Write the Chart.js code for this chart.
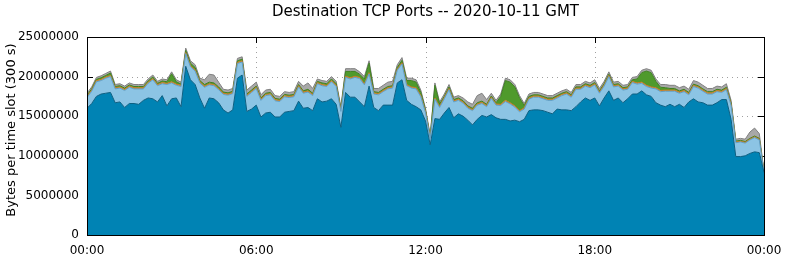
<!DOCTYPE html>
<html><head><meta charset="utf-8">
<script src="https://cdn.jsdelivr.net/npm/chart.js@4/dist/chart.umd.min.js"></script>
<style>html,body{margin:0;padding:0;background:#fff}</style>
</head><body>
<canvas id="c" width="786" height="260"></canvas>
<script>
// Values in millions of bytes per 300 s slot, one value every 10 minutes (00:00 .. 24:00)
const stepMinutes = 10;
const darkBlue = [
16.0,16.6,17.5,17.8,17.9,18.0,16.7,16.8,16.1,16.6,
16.6,16.5,17.0,17.3,17.2,16.8,17.6,16.3,17.2,17.3,
16.2,21.3,19.6,19.0,17.3,16.0,17.3,17.2,16.7,15.8,
15.4,15.8,19.8,20.2,15.6,15.9,16.4,14.9,15.4,15.5,
14.9,14.9,15.5,15.6,15.7,16.9,16.0,16.1,15.7,17.2,
16.8,16.9,17.2,16.5,13.6,18.0,17.4,17.4,16.8,16.2,
18.8,16.1,15.7,16.4,16.4,16.4,19.2,19.6,17.0,16.5,
16.2,15.8,14.4,11.4,14.7,14.6,15.4,16.1,14.8,15.3,
15.0,14.5,13.9,14.6,15.1,14.9,15.2,14.8,14.6,14.6,
14.4,14.5,14.3,14.6,15.7,15.8,15.8,15.7,15.5,15.3,
15.9,15.8,15.8,15.7,16.2,16.8,17.3,17.0,17.3,16.3,
17.3,18.2,17.0,17.3,16.7,17.2,17.8,17.8,18.2,17.7,
17.5,16.7,16.4,16.2,16.5,16.2,16.5,16.1,16.8,17.2,
16.8,16.7,16.4,16.4,16.7,17.1,17.1,14.6,9.9,9.9,
10.0,10.3,10.5,10.4,7.9];
const lightBlue = [
1.35,1.55,1.85,1.7,1.9,2.0,1.75,1.75,2.15,2.05,
1.85,1.95,1.45,1.85,2.4,2.05,1.5,2.7,2.0,1.6,
2.55,1.6,1.65,1.7,1.9,2.65,1.65,1.65,1.65,1.95,
2.25,2.05,1.85,1.65,1.9,2.1,2.1,2.1,2.2,2.2,
2.05,1.95,1.95,1.75,1.75,1.8,1.9,1.95,1.9,1.9,
2.05,1.85,2.15,2.25,2.0,1.9,2.3,2.5,2.95,2.75,
1.55,1.7,2.0,1.7,2.05,2.15,1.6,2.0,1.85,2.05,
2.25,1.65,1.05,0.8,2.45,1.5,1.8,2.25,2.0,1.7,
1.65,1.5,1.8,1.8,1.5,1.3,2.05,1.6,1.75,2.25,
2.15,1.65,1.25,1.3,1.45,1.6,1.6,1.5,1.5,1.7,
1.4,1.8,2.0,1.7,2.2,1.6,1.5,1.6,1.65,1.6,
1.5,1.8,1.7,1.5,1.6,1.2,1.45,1.25,0.95,1.05,
1.05,1.75,1.7,1.95,1.65,1.95,1.4,2.0,0.9,1.55,
1.75,1.45,1.4,1.4,1.4,0.9,1.25,1.75,1.75,1.85,
1.6,1.7,1.8,1.6,0.03];
const orange = [
.15,.15,.15,.15,.15,.15,.15,.15,.15,.15,
.15,.15,.15,.15,.15,.15,.15,.15,.15,.15,
.15,.15,.15,.15,.15,.15,.15,.15,.15,.15,
.15,.15,.15,.15,.15,.15,.15,.15,.15,.15,
.15,.15,.15,.15,.15,.15,.15,.15,.15,.15,
.15,.15,.15,.15,.15,.15,.15,.15,.15,.15,
.15,.15,.15,.15,.15,.15,.15,.15,.15,.15,
.15,.15,.15,.1,.15,.15,.15,.15,.15,.15,
.15,.15,.15,.15,.15,.15,.15,.15,.15,.15,
.15,.15,.15,.15,.15,.15,.15,.15,.15,.15,
.15,.15,.15,.15,.15,.15,.15,.15,.15,.15,
.15,.15,.15,.15,.15,.15,.15,.15,.15,.15,
.15,.15,.15,.15,.15,.15,.15,.15,.15,.15,
.15,.15,.15,.15,.15,.15,.15,.15,.1,.1,
.1,.1,.1,.1,.02];
const green = [
.15,.15,.15,.2,.2,.3,.15,.15,.15,.15,
.15,.15,.15,.15,.2,.15,.2,.2,1.0,.3,
.15,.25,.3,.3,.15,.2,.2,.2,.2,.15,
.15,.15,.2,.2,.15,.15,.15,.15,.15,.15,
.15,.15,.15,.15,.15,.15,.15,.2,.15,.15,
.2,.2,.2,.2,.15,.6,.8,.6,.4,.6,
1.2,.15,.15,.15,.15,.15,.2,.3,.5,.8,
.7,.4,.15,.1,1.6,.3,.15,.2,.15,.15,
.15,.15,.15,.15,.15,.15,.15,.15,1.0,2.5,
2.6,2.4,1.6,.3,.2,.15,.15,.15,.15,.15,
.15,.15,.15,.15,.15,.15,.15,.15,.15,.15,
.15,.15,.15,.15,.15,.15,.2,.5,1.2,1.8,
1.8,.8,.4,.3,.2,.2,.15,.15,.15,.15,
.15,.15,.15,.15,.15,.15,.15,.15,.1,.1,
.1,.1,.1,.1,.02];
const gray = [
.25,.25,.25,.25,.25,.25,.25,.25,.25,.25,
.25,.25,.25,.25,.25,.25,.25,.25,.25,.25,
.25,.3,.3,.35,.3,.6,1.0,1.0,.6,.35,
.35,.35,.3,.3,.5,.5,.5,.4,.4,.4,
.35,.35,.35,.35,.35,.4,.6,.8,.6,.3,
.3,.3,.3,.3,.3,.35,.35,.35,.3,.3,
.3,.4,.5,.5,.55,.55,.35,.35,.3,.3,
.3,.3,.25,.2,.3,.25,.3,.3,.3,.3,
.35,.5,.5,.9,1.0,.6,.35,.3,.3,.3,
.3,.3,.3,.25,.3,.3,.3,.3,.3,.3,
.3,.3,.3,.3,.3,.3,.3,.3,.35,.3,
.3,.3,.3,.3,.3,.3,.3,.3,.3,.3,
.3,.3,.35,.4,.4,.4,.4,.4,.4,.45,
.45,.45,.4,.4,.4,.4,.45,.35,.25,.25,
.3,.8,1.0,.6,.03];

const slots = darkBlue.map((_, i) => i * stepMinutes);
const xTickValues = [0, 360, 720, 1080, 1440];
const xTickLabels = ['00:00', '06:00', '12:00', '18:00', '00:00'];
const yTickValues = [0, 5000000, 10000000, 15000000, 20000000, 25000000];
const yTickLabels = ['0', '5000000', '10000000', '15000000', '20000000', '25000000'];
const titleText = 'Destination TCP Ports -- 2020-10-11 GMT';
const yTitleText = 'Bytes per time slot (300 s)';

const FONT = "'DejaVu Sans', sans-serif";
const series = [
  {label: 'dark',   data: darkBlue,  bg: '#0083b4', bc: '#0d5f82'},
  {label: 'light',  data: lightBlue, bg: '#8cc4e4', bc: '#5e9ec6'},
  {label: 'orange', data: orange,    bg: '#d8902a', bc: '#c47a22'},
  {label: 'green',  data: green,     bg: '#4f9a2c', bc: '#3f8022'},
  {label: 'gray',   data: gray,      bg: '#a8a8a8', bc: '#808080'}
];

const framePlugin = {
  id: 'frame',
  beforeDatasetsDraw(chart) {
    const {ctx, chartArea: a, scales: {x, y}} = chart;
    ctx.save();
    ctx.lineWidth = 1;
    ctx.strokeStyle = '#a0a0a0';
    ctx.setLineDash([1, 4]);
    yTickValues.forEach(v => {
      if (v <= y.min || v >= y.max) return;
      const py = Math.round(y.getPixelForValue(v)) + 0.5;
      ctx.beginPath(); ctx.moveTo(a.left, py); ctx.lineTo(a.right, py); ctx.stroke();
    });
    xTickValues.forEach(v => {
      if (v <= x.min || v >= x.max) return;
      const px = Math.round(x.getPixelForValue(v)) + 0.5;
      ctx.beginPath(); ctx.moveTo(px, a.top); ctx.lineTo(px, a.bottom); ctx.stroke();
    });
    ctx.setLineDash([]);
    ctx.strokeStyle = '#000';
    const L = 6;
    yTickValues.forEach(v => {
      const py = Math.round(y.getPixelForValue(v)) + 0.5;
      ctx.beginPath();
      ctx.moveTo(a.left, py); ctx.lineTo(a.left + L, py);
      ctx.moveTo(a.right, py); ctx.lineTo(a.right - L, py);
      ctx.stroke();
    });
    xTickValues.forEach(v => {
      const px = Math.round(x.getPixelForValue(v)) + 0.5;
      ctx.beginPath();
      ctx.moveTo(px, a.top); ctx.lineTo(px, a.top + L);
      ctx.moveTo(px, a.bottom); ctx.lineTo(px, a.bottom - L);
      ctx.stroke();
    });
    ctx.restore();
  },
  afterDatasetsDraw(chart) {
    const {ctx, chartArea: a} = chart;
    ctx.save();
    ctx.strokeStyle = '#000';
    ctx.lineWidth = 1;
    ctx.strokeRect(Math.round(a.left) + 0.5, Math.round(a.top) + 0.5,
                   Math.round(a.right - a.left), Math.round(a.bottom - a.top));
    ctx.fillStyle = '#000';
    ctx.textAlign = 'center';
    ctx.textBaseline = 'middle';
    ctx.font = '15px ' + FONT;
    ctx.fillText(titleText, (a.left + a.right) / 2, 12);
    ctx.save();
    ctx.translate(12, 130);
    ctx.rotate(-Math.PI / 2);
    ctx.font = '13px ' + FONT;
    ctx.fillText(yTitleText, 0, 0);
    ctx.restore();
    ctx.restore();
  }
};

new Chart(document.getElementById('c'), {
  type: 'line',
  data: {
    datasets: series.map((s, k) => ({
      label: s.label,
      data: s.data.map((v, i) => ({x: slots[i], y: v * 1e6})),
      backgroundColor: s.bg,
      borderColor: s.bc,
      borderWidth: 1,
      pointRadius: 0,
      tension: 0,
      fill: k === 0 ? 'origin' : '-1'
    }))
  },
  options: {
    responsive: false,
    animation: false,
    devicePixelRatio: 1,
    layout: {padding: {left: 0, right: 22, top: 37, bottom: 0}},
    plugins: {
      legend: {display: false},
      tooltip: {enabled: false},
      title: {display: false}
    },
    scales: {
      x: {
        type: 'linear', min: 0, max: 1440,
        afterBuildTicks: s => { s.ticks = xTickValues.map(v => ({value: v})); },
        afterFit: s => { s.height = 25; s.paddingLeft = 0; s.paddingRight = 0; },
        ticks: {
          autoSkip: false, maxRotation: 0, padding: 9, color: '#000',
          font: {family: FONT, size: 12},
          callback: v => xTickLabels[xTickValues.indexOf(v)]
        },
        grid: {display: false, drawTicks: false},
        border: {display: false}
      },
      y: {
        stacked: true, min: 0, max: 25000000,
        afterBuildTicks: s => { s.ticks = yTickValues.map(v => ({value: v})); },
        afterFit: s => { s.width = 87; s.paddingTop = 0; s.paddingBottom = 0; },
        ticks: {
          padding: 8, color: '#000',
          font: {family: FONT, size: 12},
          callback: v => yTickLabels[yTickValues.indexOf(v)]
        },
        grid: {display: false, drawTicks: false},
        border: {display: false},
        title: {display: false}
      }
    }
  },
  plugins: [framePlugin]
});
</script>
</body></html>
